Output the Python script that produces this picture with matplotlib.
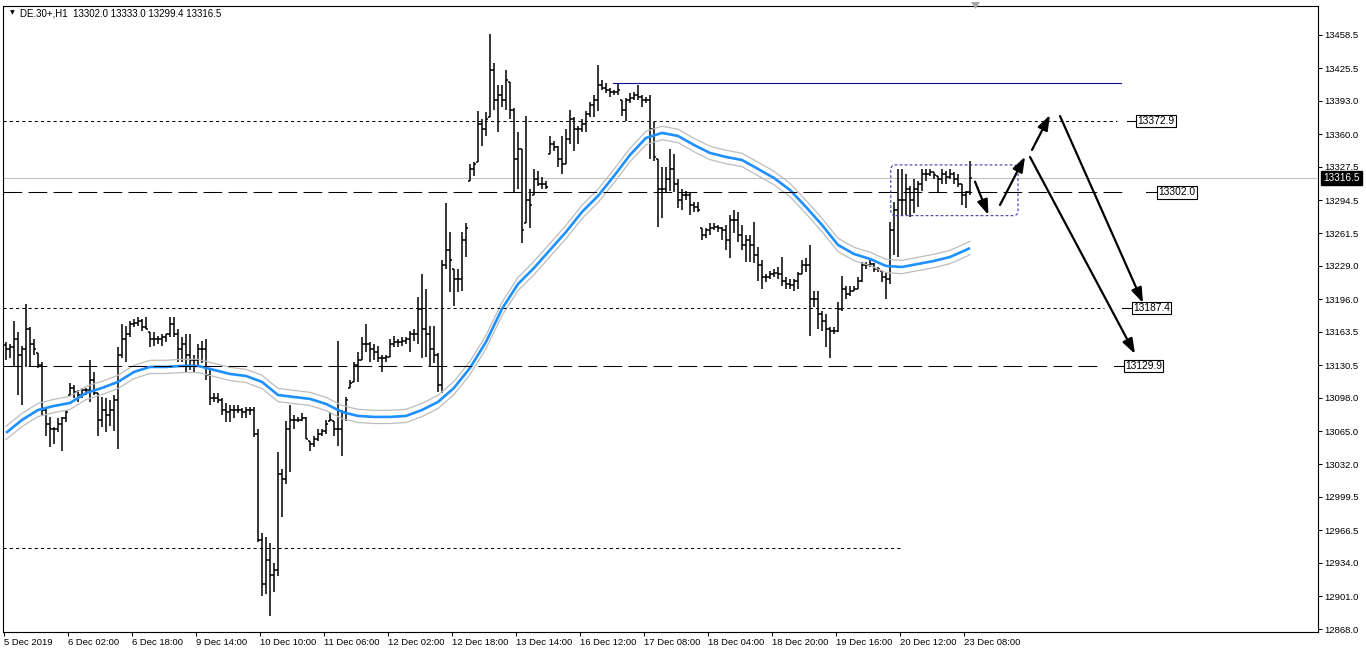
import matplotlib
matplotlib.use("Agg")
import matplotlib.pyplot as plt
from matplotlib.collections import LineCollection
from matplotlib.patches import FancyBboxPatch, Polygon

# ---------------- data ----------------
title_text = "DE.30+,H1  13302.0 13333.0 13299.4 13316.5"

highs = [
    13153, 13151, 13174, 13163, 13149, 13191, 13168, 13156, 13143, 13134,
    13088, 13079, 13069, 13078, 13079, 13086, 13113, 13111, 13106, 13108,
    13108, 13136, 13124, 13103, 13099, 13098, 13096, 13101, 13148, 13171,
    13169, 13174, 13176, 13178, 13176, 13178, 13163, 13163, 13159, 13161,
    13161, 13178, 13178, 13166, 13158, 13161, 13161, 13141, 13151, 13154,
    13156, 13126, 13103, 13103, 13098, 13093, 13091, 13091, 13091, 13088,
    13089, 13089, 13089, 13067, 12964, 12960, 12954, 12934, 13044, 13027,
    13075, 13091, 13081, 13079, 13083, 13079, 13055, 13060, 13067, 13067,
    13076, 13084, 13075, 13154, 13086, 13099, 13116, 13134, 13144, 13158,
    13171, 13153, 13151, 13149, 13141, 13141, 13156, 13159, 13156, 13158,
    13158, 13164, 13166, 13198, 13221, 13206, 13169, 13169, 13143, 13235,
    13292, 13263, 13226, 13226, 13263, 13272, 13330, 13332, 13383, 13375,
    13382, 13459, 13431, 13409, 13409, 13424, 13412, 13386, 13362, 13345,
    13378, 13305, 13325, 13323, 13317, 13313, 13358, 13353, 13348, 13358,
    13365, 13384, 13377, 13368, 13375, 13383, 13392, 13399, 13429, 13414,
    13411, 13406, 13404, 13411, 13394, 13396, 13401, 13402, 13409, 13399,
    13397, 13399, 13372, 13335, 13327, 13327, 13345, 13340, 13315, 13305,
    13303, 13302, 13293, 13293, 13267, 13267, 13272, 13272, 13270, 13268,
    13270, 13280, 13285, 13283, 13270, 13260, 13260, 13273, 13248, 13235,
    13221, 13224, 13226, 13228, 13238, 13218, 13216, 13216, 13223, 13235,
    13237, 13250, 13204, 13204, 13184, 13181, 13168, 13168, 13193, 13219,
    13209, 13209, 13209, 13218, 13233, 13233, 13235, 13232, 13228, 13224,
    13223, 13273, 13293, 13325, 13325, 13320, 13308, 13315, 13313, 13325,
    13325, 13325, 13322, 13318, 13325, 13323, 13325, 13322, 13320, 13310,
    13303, 13333.0,
]
lows = [
    13136, 13138, 13129, 13101, 13091, 13129, 13129, 13141, 13128, 13081,
    13060, 13049, 13052, 13064, 13045, 13074, 13101, 13098, 13094, 13098,
    13101, 13094, 13101, 13060, 13069, 13064, 13070, 13065, 13047, 13138,
    13134, 13158, 13168, 13169, 13164, 13166, 13148, 13149, 13151, 13149,
    13153, 13158, 13158, 13134, 13134, 13124, 13126, 13124, 13129, 13133,
    13116, 13091, 13094, 13093, 13081, 13074, 13074, 13078, 13083, 13078,
    13078, 13081, 13059, 12955, 12901, 12903, 12881, 12905, 12921, 12980,
    13012, 13024, 13067, 13074, 13075, 13057, 13045, 13049, 13055, 13060,
    13062, 13075, 13060, 13050, 13040, 13075, 13108, 13114, 13114, 13136,
    13144, 13134, 13136, 13134, 13124, 13134, 13139, 13148, 13148, 13149,
    13151, 13144, 13154, 13151, 13138, 13139, 13129, 13133, 13104, 13103,
    13226, 13203, 13189, 13203, 13204, 13238, 13313, 13318, 13332, 13348,
    13358, 13377, 13384, 13362, 13387, 13384, 13375, 13302, 13305, 13252,
    13272, 13267, 13300, 13308, 13305, 13305, 13340, 13343, 13327, 13320,
    13330, 13350, 13343, 13350, 13362, 13362, 13377, 13377, 13383, 13404,
    13401, 13397, 13399, 13399, 13378, 13373, 13391, 13394, 13394, 13387,
    13391, 13335, 13333, 13268, 13277, 13302, 13303, 13302, 13287, 13285,
    13295, 13280, 13283, 13283, 13255, 13257, 13260, 13265, 13263, 13255,
    13245, 13237, 13262, 13253, 13245, 13233, 13233, 13232, 13214, 13206,
    13213, 13216, 13218, 13216, 13209, 13206, 13206, 13204, 13206, 13221,
    13223, 13159, 13188, 13166, 13164, 13148, 13138, 13161, 13163, 13184,
    13196, 13199, 13204, 13206, 13213, 13226, 13228, 13223, 13223, 13213,
    13196, 13211, 13240, 13238, 13280, 13280, 13278, 13282, 13288, 13303,
    13313, 13318, 13315, 13302, 13310, 13310, 13315, 13310, 13307, 13290,
    13287, 13299.4,
]
closes = [
    13146, 13148, 13156, 13141, 13146, 13166, 13151, 13146, 13131, 13086,
    13072, 13067, 13067, 13072, 13078, 13084, 13108, 13104, 13101, 13106,
    13106, 13116, 13103, 13076, 13086, 13081, 13086, 13096, 13141, 13156,
    13161, 13171, 13172, 13174, 13168, 13166, 13156, 13156, 13156, 13158,
    13161, 13171, 13161, 13146, 13151, 13141, 13136, 13136, 13146, 13146,
    13121, 13098, 13098, 13096, 13086, 13084, 13086, 13086, 13086, 13084,
    13086, 13086, 13062, 12957, 12913, 12937, 12922, 12927, 13022, 13017,
    13067, 13076, 13076, 13076, 13078, 13057, 13052, 13057, 13062, 13065,
    13072, 13076, 13067, 13067, 13084, 13096, 13113, 13131, 13136, 13151,
    13151, 13146, 13144, 13138, 13138, 13139, 13151, 13153, 13153, 13154,
    13156, 13161, 13161, 13186, 13166, 13161, 13146, 13141, 13111, 13230,
    13245, 13235, 13216, 13216, 13255, 13267, 13325, 13330, 13370, 13365,
    13375, 13424, 13394, 13399, 13394, 13414, 13384, 13335, 13345, 13265,
    13295, 13290, 13315, 13310, 13310, 13307, 13350, 13347, 13335, 13330,
    13355, 13375, 13365, 13365, 13370, 13380, 13389, 13394, 13409, 13406,
    13404, 13402, 13402, 13404, 13384, 13394, 13396, 13399, 13397, 13394,
    13394, 13365, 13337, 13305, 13305, 13315, 13325, 13310, 13295, 13300,
    13300, 13290, 13288, 13285, 13260, 13265, 13267, 13268, 13267, 13265,
    13255, 13275, 13275, 13260, 13250, 13255, 13250, 13240, 13230, 13218,
    13218, 13221, 13222, 13221, 13214, 13211, 13210, 13214, 13221, 13230,
    13230, 13196, 13196, 13181, 13174, 13166, 13164, 13164, 13186, 13206,
    13201, 13204, 13206, 13214, 13230, 13230, 13231, 13226, 13226, 13218,
    13216, 13265, 13285, 13295, 13295, 13305, 13295, 13305, 13310, 13320,
    13320, 13322, 13319, 13315, 13320, 13317, 13320, 13315, 13310, 13300,
    13302.0, 13316.5,
]
first_open = 13150.0

# moving average (blue) read every 4 bars, plus the last bar
ma_bars = list(range(0, 241, 4)) + [241]
ma_values = [
    13063.1, 13076.0, 13085.9, 13089.9, 13092.9, 13102.8, 13107.8, 13113.8,
    13123.7, 13128.7, 13128.7, 13129.7, 13129.7, 13125.7, 13121.7, 13119.7,
    13113.8, 13100.8, 13098.8, 13096.9, 13091.9, 13083.9, 13080.0, 13079.0,
    13079.0, 13080.0, 13085.9, 13093.9, 13107.8, 13127.7, 13153.5, 13186.3,
    13211.1, 13227.0, 13244.9, 13262.8, 13282.7, 13298.6, 13318.4, 13339.3,
    13356.2, 13361.2, 13358.2, 13349.2, 13341.3, 13337.3, 13334.3, 13325.4,
    13316.4, 13304.5, 13287.6, 13269.7, 13249.9, 13240.9, 13236.0, 13229.0,
    13228.0, 13231.0, 13234.0, 13237.9, 13244.9, 13246.9,
]
envelope_pct = 0.05

y_ticks = [13458.5, 13425.5, 13393.0, 13360.0, 13327.5, 13294.5, 13261.5,
           13229.0, 13196.0, 13163.5, 13130.5, 13098.0, 13065.0, 13032.0,
           12999.5, 12966.5, 12934.0, 12901.0, 12868.0]
x_tick_bars = [0, 16, 32, 48, 64, 80, 96, 112, 128, 144, 160, 176, 192, 208, 224, 240]
x_tick_labels = ["5 Dec 2019", "6 Dec 02:00", "6 Dec 18:00", "9 Dec 14:00",
                 "10 Dec 10:00", "11 Dec 06:00", "12 Dec 02:00", "12 Dec 18:00",
                 "13 Dec 14:00", "16 Dec 12:00", "17 Dec 08:00", "18 Dec 04:00",
                 "18 Dec 20:00", "19 Dec 16:00", "20 Dec 12:00", "23 Dec 08:00"]

current_price = 13316.5
label_levels = [13372.9, 13302.0, 13187.4, 13129.9]
low_dotted_level = 12948.8
resistance_level = 13410.8

# ---------------- figure ----------------
W, H = 1366, 655
FONT = "Liberation Sans"
FS = 6.8
plt.rcParams["font.family"] = [FONT, "DejaVu Sans"]

fig = plt.figure(figsize=(W / 100, H / 100), dpi=100)
fig.patch.set_facecolor("white")
L_PX, R_PX, T_PX, B_PX = 3, 1318, 6, 631.5
ax = fig.add_axes([L_PX / W, 1 - B_PX / H, (R_PX - L_PX) / W, (B_PX - T_PX) / H])
ax.set_facecolor("white")
xmin = -0.75
xmax = xmin + (R_PX - L_PX) / 4.0
ax.set_xlim(xmin, xmax)
ax.set_ylim(12865.8, 13487.3)

n = len(highs)
opens = [first_open] + closes[:-1]
opens = [min(max(o, lo), hi) for o, lo, hi in zip(opens, lows, highs)]

# current price line (behind)
ax.axhline(current_price, color="#C0C0C0", lw=0.75, zorder=1)

# price bars
segs = []
for i in range(n):
    segs.append([(i, lows[i]), (i, highs[i])])
    segs.append([(i - 0.5, opens[i]), (i, opens[i])])
    segs.append([(i, closes[i]), (i + 0.5, closes[i])])
ax.add_collection(LineCollection(segs, colors="black", linewidths=1.1, zorder=3))

# moving average + envelopes
up = [v * (1 + envelope_pct / 100) for v in ma_values]
dn = [v * (1 - envelope_pct / 100) for v in ma_values]
ax.plot(ma_bars, up, color="#BDBDBD", lw=0.9, zorder=4)
ax.plot(ma_bars, dn, color="#BDBDBD", lw=0.9, zorder=4)
ax.plot(ma_bars, ma_values, color="#1E90FF", lw=1.9, zorder=5, solid_capstyle="butt")

DOT = (0, (3, 3))
DASH = (0, (18, 6))
# level lines with boxed labels: (value, style, line end, seg start, seg end)
level_specs = [
    (label_levels[0], DOT, 277.75, 280.25, 282.5),
    (label_levels[1], DASH, 280.25, 285.0, 287.75),
    (label_levels[2], DOT, 274.5, 279.0, 281.5),
    (label_levels[3], DASH, 274.25, 277.0, 279.5),
]
for val, ls, xend, s0, s1 in level_specs:
    ax.plot([xmin, xend], [val, val], color="black", lw=0.75, ls=ls, zorder=6)
    ax.plot([s0, s1], [val, val], color="black", lw=0.75, zorder=6)
    ax.text(s1 + 0.35, val, f"{val:.1f}", fontsize=7.4, ha="left", va="center",
            color="black", zorder=7,
            bbox=dict(boxstyle="square,pad=0.1", fc="white", ec="black", lw=0.8))

ax.plot([xmin, 223.5], [low_dotted_level] * 2, color="black", lw=0.75, ls=DOT, zorder=6)
ax.plot([151.75, 278.75], [resistance_level] * 2, color="#10109C", lw=0.8, zorder=6)

# consolidation box
box = FancyBboxPatch((221.2, 13279.0), 253.0 - 221.2, 50.4,
                     boxstyle="round,pad=0,rounding_size=1.2", mutation_aspect=4.0,
                     fc="none", ec="#3838A8", lw=0.8, ls=(0, (2.5, 2)), zorder=6)
ax.add_patch(box)

# arrows (start -> tip) in bar / price units
arrows = [
    ((242.25, 13312.8), (245.6, 13279.7)),
    ((248.5, 13289.6), (254.75, 13337.6)),
    ((256.5, 13344.3), (261.0, 13379.0)),
    ((263.5, 13378.0), (284.25, 13192.2)),
    ((256.0, 13337.3), (282.25, 13141.6)),
]
for (x0, y0), (x1, y1) in arrows:
    ax.annotate("", xy=(x1, y1), xytext=(x0, y0), zorder=8,
                arrowprops=dict(arrowstyle="-|>,head_length=0.9,head_width=0.32",
                                color="black", lw=1.6, shrinkA=0, shrinkB=0,
                                mutation_scale=10))

# axes / ticks
for s in ax.spines.values():
    s.set_color("black")
    s.set_linewidth(0.8)
ax.yaxis.tick_right()
ax.set_yticks(y_ticks)
ax.set_yticklabels([f"{v:.1f}" for v in y_ticks])
ax.tick_params(axis="y", direction="out", length=3, width=0.75, pad=1.5,
               labelsize=FS, right=True, left=False, colors="black")
ax.set_xticks([b - 0.5 for b in x_tick_bars])
ax.set_xticklabels(x_tick_labels, ha="left")
ax.tick_params(axis="x", direction="out", length=3, width=0.75, pad=1.5,
               labelsize=FS, colors="black")

# current price tag on the axis
ax.annotate(f"{current_price:.1f}", xy=(1, current_price),
            xycoords=("axes fraction", "data"), xytext=(5, 0),
            textcoords="offset pixels", ha="left", va="center", color="white",
            fontsize=7.2, annotation_clip=False, zorder=10,
            bbox=dict(boxstyle="square,pad=0.2", fc="black", ec="black"))

# title
fig.text(10 / W, 1 - 13 / H, "\u25BC", fontsize=4.5, family="DejaVu Sans",
         ha="left", va="center", color="black")
fig.text(20.5 / W, 1 - 13 / H, title_text, fontsize=FS + 0.2, ha="left",
         va="center", color="black")

# chart-shift marker at the top edge
tri = Polygon([[971 / W, 1 - 2 / H], [980 / W, 1 - 2 / H], [975.5 / W, 1 - 9 / H]],
              closed=True, transform=fig.transFigure, fc="#A8A8A8", ec="none",
              zorder=20, clip_on=False)
ax.add_artist(tri)

fig.savefig("out.png", dpi=100, facecolor="white")
